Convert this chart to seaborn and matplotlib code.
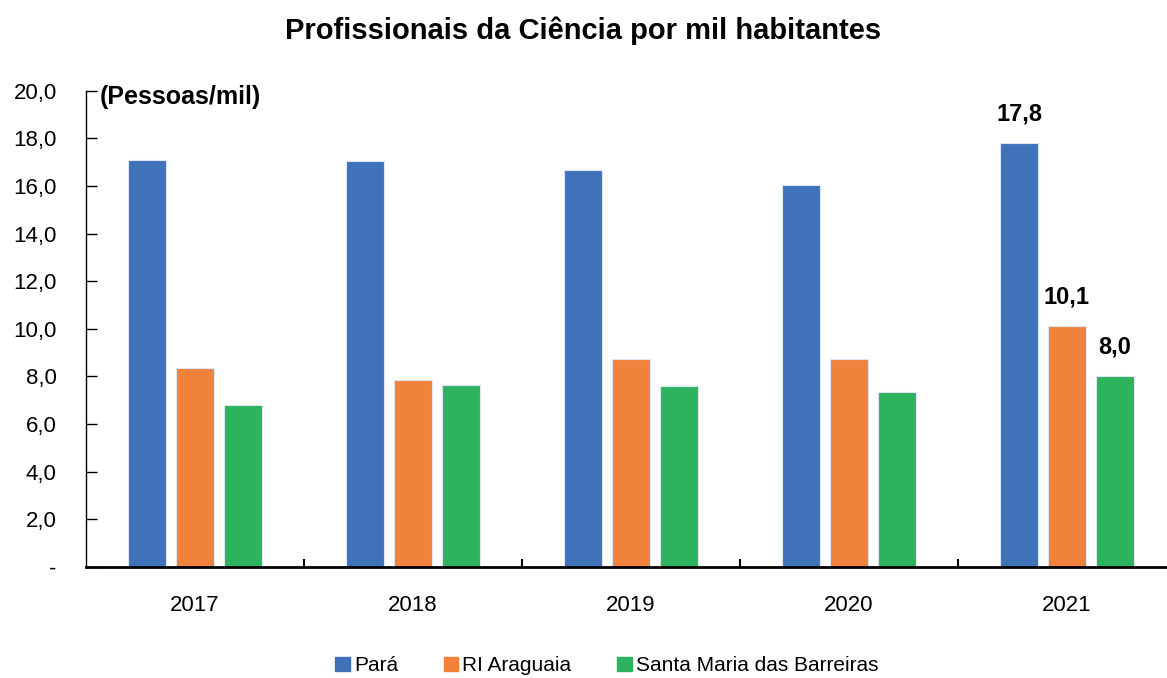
import pandas as pd
import numpy as np
import matplotlib
matplotlib.use("Agg")
import matplotlib.pyplot as plt
import seaborn as sns
from matplotlib.ticker import FixedLocator

anos = ["2017", "2018", "2019", "2020", "2021"]
para = [17.1, 17.05, 16.65, 16.05, 17.8]
araguaia = [8.35, 7.85, 8.75, 8.75, 10.1]
santa_maria = [6.8, 7.65, 7.6, 7.35, 8.0]
regioes = ["Pará", "RI Araguaia", "Santa Maria das Barreiras"]
cores = ["#3F72B8", "#F0823C", "#2DB35E"]

df = pd.DataFrame({
    "Ano": anos * 3,
    "Valor": para + araguaia + santa_maria,
    "Regiao": [r for r in regioes for _ in anos],
})

sns.set_style("white")
plt.rcParams['font.family'] = ['Liberation Sans Narrow', 'Liberation Sans', 'DejaVu Sans']
plt.rcParams['text.color'] = "black"
plt.rcParams['xtick.color'] = "black"
plt.rcParams['ytick.color'] = "black"

fig = plt.figure(figsize=(11.67, 6.78), dpi=100)
ax = fig.add_axes([0.0737, 0.1637, 0.934, 0.7025])

sns.barplot(data=df, x="Ano", y="Valor", hue="Regiao", palette=cores, saturation=1,
            width=0.66, gap=0.2, edgecolor="#dde6f2", linewidth=0.8,
            ax=ax, legend=True)

# rotulos so no ultimo ano
for cont in ax.containers:
    labels = [""] * (len(anos) - 1) + [f"{cont.datavalues[-1]:.1f}".replace(".", ",")]
    ax.bar_label(cont, labels=labels, padding=13, fontsize=17, fontweight="bold")

ax.set_ylim(0, 20)
ax.set_xlim(-0.5, 4.5)
ax.set_yticks(np.arange(0, 21, 2))
ax.set_yticklabels(["-"] + [f"{v:.1f}".replace(".", ",") for v in np.arange(2, 21, 2)])
ax.tick_params(axis="y", left=True, direction="in", length=8, width=1, labelsize=16, pad=21)
ax.tick_params(axis="x", length=0, labelsize=16, pad=20)
ax.xaxis.set_minor_locator(FixedLocator([0.5, 1.5, 2.5, 3.5]))
ax.tick_params(axis="x", which="minor", bottom=True, direction="in", length=6, width=1.5)
ax.set_xlabel("")
ax.set_ylabel("")

for s in ["top", "right"]:
    ax.spines[s].set_visible(False)
ax.spines["left"].set_color("black")
ax.spines["left"].set_linewidth(1)
ax.spines["bottom"].set_color("black")
ax.spines["bottom"].set_linewidth(2)

ax.text(0.013, 19.75, "(Pessoas/mil)", fontsize=18, fontweight="bold", va="center", ha="left",
        transform=ax.get_yaxis_transform())

fig.suptitle("Profissionais da Ciência por mil habitantes", fontsize=21, fontweight="bold", y=0.975)

ax.get_legend().remove()
handles = [plt.Rectangle((0, 0), 1, 1, color=c) for c in cores]
fig.legend(handles, regioes, loc="center", bbox_to_anchor=(0.52, 0.018), ncol=3, frameon=False,
           fontsize=15, handlelength=0.7, handleheight=0.7, handletextpad=0.2, columnspacing=2.2)

fig.savefig("out.png", dpi=100)
